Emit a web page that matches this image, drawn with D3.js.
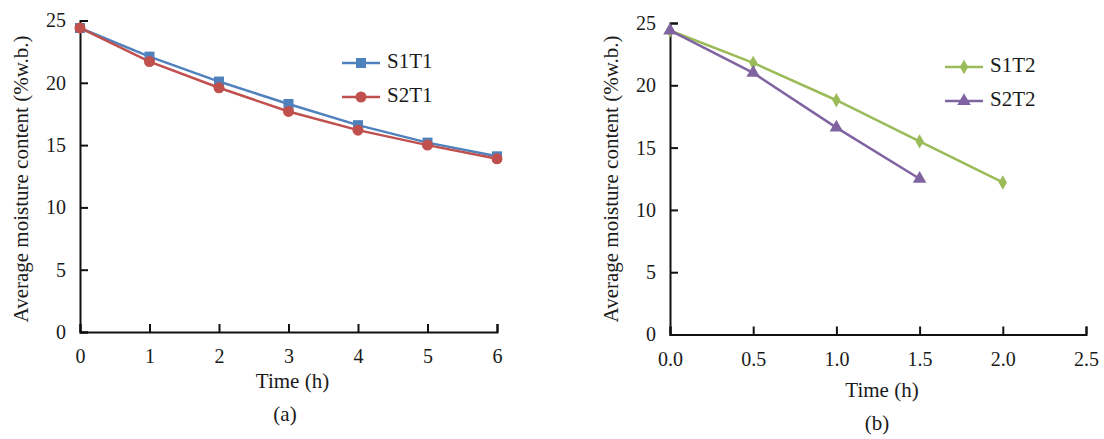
<!DOCTYPE html>
<html>
<head>
<meta charset="utf-8">
<script src="https://cdn.jsdelivr.net/npm/d3@7"></script>
<style>
  body { margin: 0; background: #fff; font-family: "Liberation Serif", serif; }
</style>
</head>
<body>
<div id="graf"></div>
<script>
// datos (a)
var horasA = [0, 1, 2, 3, 4, 5, 6];
var s1t1 = [24.4, 22.1, 20.1, 18.3, 16.6, 15.2, 14.1];
var s2t1 = [24.4, 21.7, 19.6, 17.7, 16.2, 15.0, 13.9];
// datos (b)
var horasB1 = [0, 0.5, 1.0, 1.5, 2.0];
var s1t2 = [24.4, 21.8, 18.8, 15.5, 12.2];
var horasB2 = [0, 0.5, 1.0, 1.5];
var s2t2 = [24.4, 21.0, 16.6, 12.5];
var ticksY = [0, 5, 10, 15, 20, 25];
var ticksXA = [0, 1, 2, 3, 4, 5, 6];
var ticksXB = [0, 0.5, 1.0, 1.5, 2.0, 2.5];

var fuente = "Liberation Serif";

var svg = d3.select("#graf").append("svg")
  .attr("width", 1104).attr("height", 439)
  .attr("font-family", fuente);

var colores = { azul: "#4F81BD", rojo: "#C0504D", verde: "#9BBB59", morado: "#8064A2" };

function marcador(g, tipo, color, cx, cy) {
  if (tipo === "square") {
    g.append("rect").attr("x", cx - 5).attr("y", cy - 5).attr("width", 10).attr("height", 10).attr("fill", color);
  } else if (tipo === "circle") {
    g.append("circle").attr("cx", cx).attr("cy", cy).attr("r", 5.5).attr("fill", color);
  } else if (tipo === "diamond") {
    g.append("path").attr("d", d3.symbol(d3.symbolDiamond, 60)()).attr("transform", "translate(" + cx + "," + cy + ")").attr("fill", color);
  } else {
    g.append("path").attr("d", d3.symbol(d3.symbolTriangle, 80)()).attr("transform", "translate(" + cx + "," + cy + ")").attr("fill", color);
  }
}

function texto(g, t, x, y, tam) {
  return g.append("text").text(t).attr("x", x).attr("y", y)
    .attr("font-family", fuente).attr("font-size", tam).attr("fill", "#1a1a1a")
    .attr("dominant-baseline", "middle");
}

function panel(cfg) {
  var x = d3.scaleLinear().domain(cfg.domX).range(cfg.rangoX);
  var y = d3.scaleLinear().domain([0, 25]).range(cfg.rangoY);
  var g = svg.append("g");

  // eje y
  var ejeY = g.append("g").attr("transform", "translate(" + cfg.rangoX[0] + ",0)")
    .call(d3.axisRight(y).tickValues(ticksY).tickSize(8).tickFormat(d3.format("d")));
  ejeY.selectAll("text").attr("x", -14).attr("text-anchor", "end");

  // eje x
  var ejeX = g.append("g").attr("transform", "translate(0," + cfg.rangoY[0] + ")")
    .call(d3.axisTop(x).tickValues(cfg.ticksX).tickSize(8).tickFormat(cfg.formato));
  ejeX.selectAll("text").attr("y", 31);

  g.selectAll(".domain").attr("stroke", "#111").attr("stroke-width", 2);
  g.selectAll(".tick line").attr("stroke", "#111").attr("stroke-width", 2);
  ejeY.attr("font-family", fuente).attr("font-size", 20);
  ejeX.attr("font-family", fuente).attr("font-size", 20);
  g.selectAll(".tick text").attr("fill", "#1a1a1a").attr("font-family", fuente);

  // titulos
  g.append("text").text("Average moisture content (%w.b.)")
    .attr("transform", "translate(" + cfg.tituloY + "," + 179 + ") rotate(-90)")
    .attr("font-family", fuente).attr("font-size", 21).attr("fill", "#1a1a1a")
    .attr("text-anchor", "middle").attr("dominant-baseline", "middle");
  texto(g, "Time (h)", (cfg.rangoX[0] + cfg.rangoX[1]) / 2 + 4, cfg.tituloX, 21).attr("text-anchor", "middle");
  texto(g, cfg.letra, cfg.letraX, cfg.letraY, 21).attr("text-anchor", "middle");

  // series
  cfg.series.forEach(function(s, k) {
    var pts = s.xs.map(function(v, i) { return [v, s.ys[i]]; });
    var linea = d3.line().x(function(d) { return x(d[0]); }).y(function(d) { return y(d[1]); });
    g.append("path").datum(pts).attr("d", linea)
      .attr("fill", "none").attr("stroke", s.color).attr("stroke-width", 2.5);
    pts.forEach(function(p) { marcador(g, s.tipo, s.color, x(p[0]), y(p[1])); });

    // leyenda
    var ly = cfg.leyY + k * 34;
    g.append("line").attr("x1", cfg.leyX).attr("x2", cfg.leyX + 38)
      .attr("y1", ly).attr("y2", ly).attr("stroke", s.color).attr("stroke-width", 2.5);
    marcador(g, s.tipo, s.color, cfg.leyX + 19, ly);
    texto(g, s.nombre, cfg.leyX + 45, ly, 21);
  });
}

panel({
  domX: [0, 6], rangoX: [80, 497], rangoY: [332, 20.5],
  ticksX: ticksXA, formato: d3.format("d"),
  tituloY: 23, tituloX: 383, letra: "(a)", letraX: 285, letraY: 416,
  leyX: 342, leyY: 63,
  series: [
    { nombre: "S1T1", xs: horasA, ys: s1t1, color: colores.azul, tipo: "square" },
    { nombre: "S2T1", xs: horasA, ys: s2t1, color: colores.rojo, tipo: "circle" }
  ]
});

panel({
  domX: [0, 2.5], rangoX: [670, 1086], rangoY: [334.5, 23],
  ticksX: ticksXB, formato: d3.format(".1f"),
  tituloY: 613, tituloX: 392, letra: "(b)", letraX: 877, letraY: 425,
  leyX: 945, leyY: 67,
  series: [
    { nombre: "S1T2", xs: horasB1, ys: s1t2, color: colores.verde, tipo: "diamond" },
    { nombre: "S2T2", xs: horasB2, ys: s2t2, color: colores.morado, tipo: "triangle" }
  ]
});
</script>
</body>
</html>
